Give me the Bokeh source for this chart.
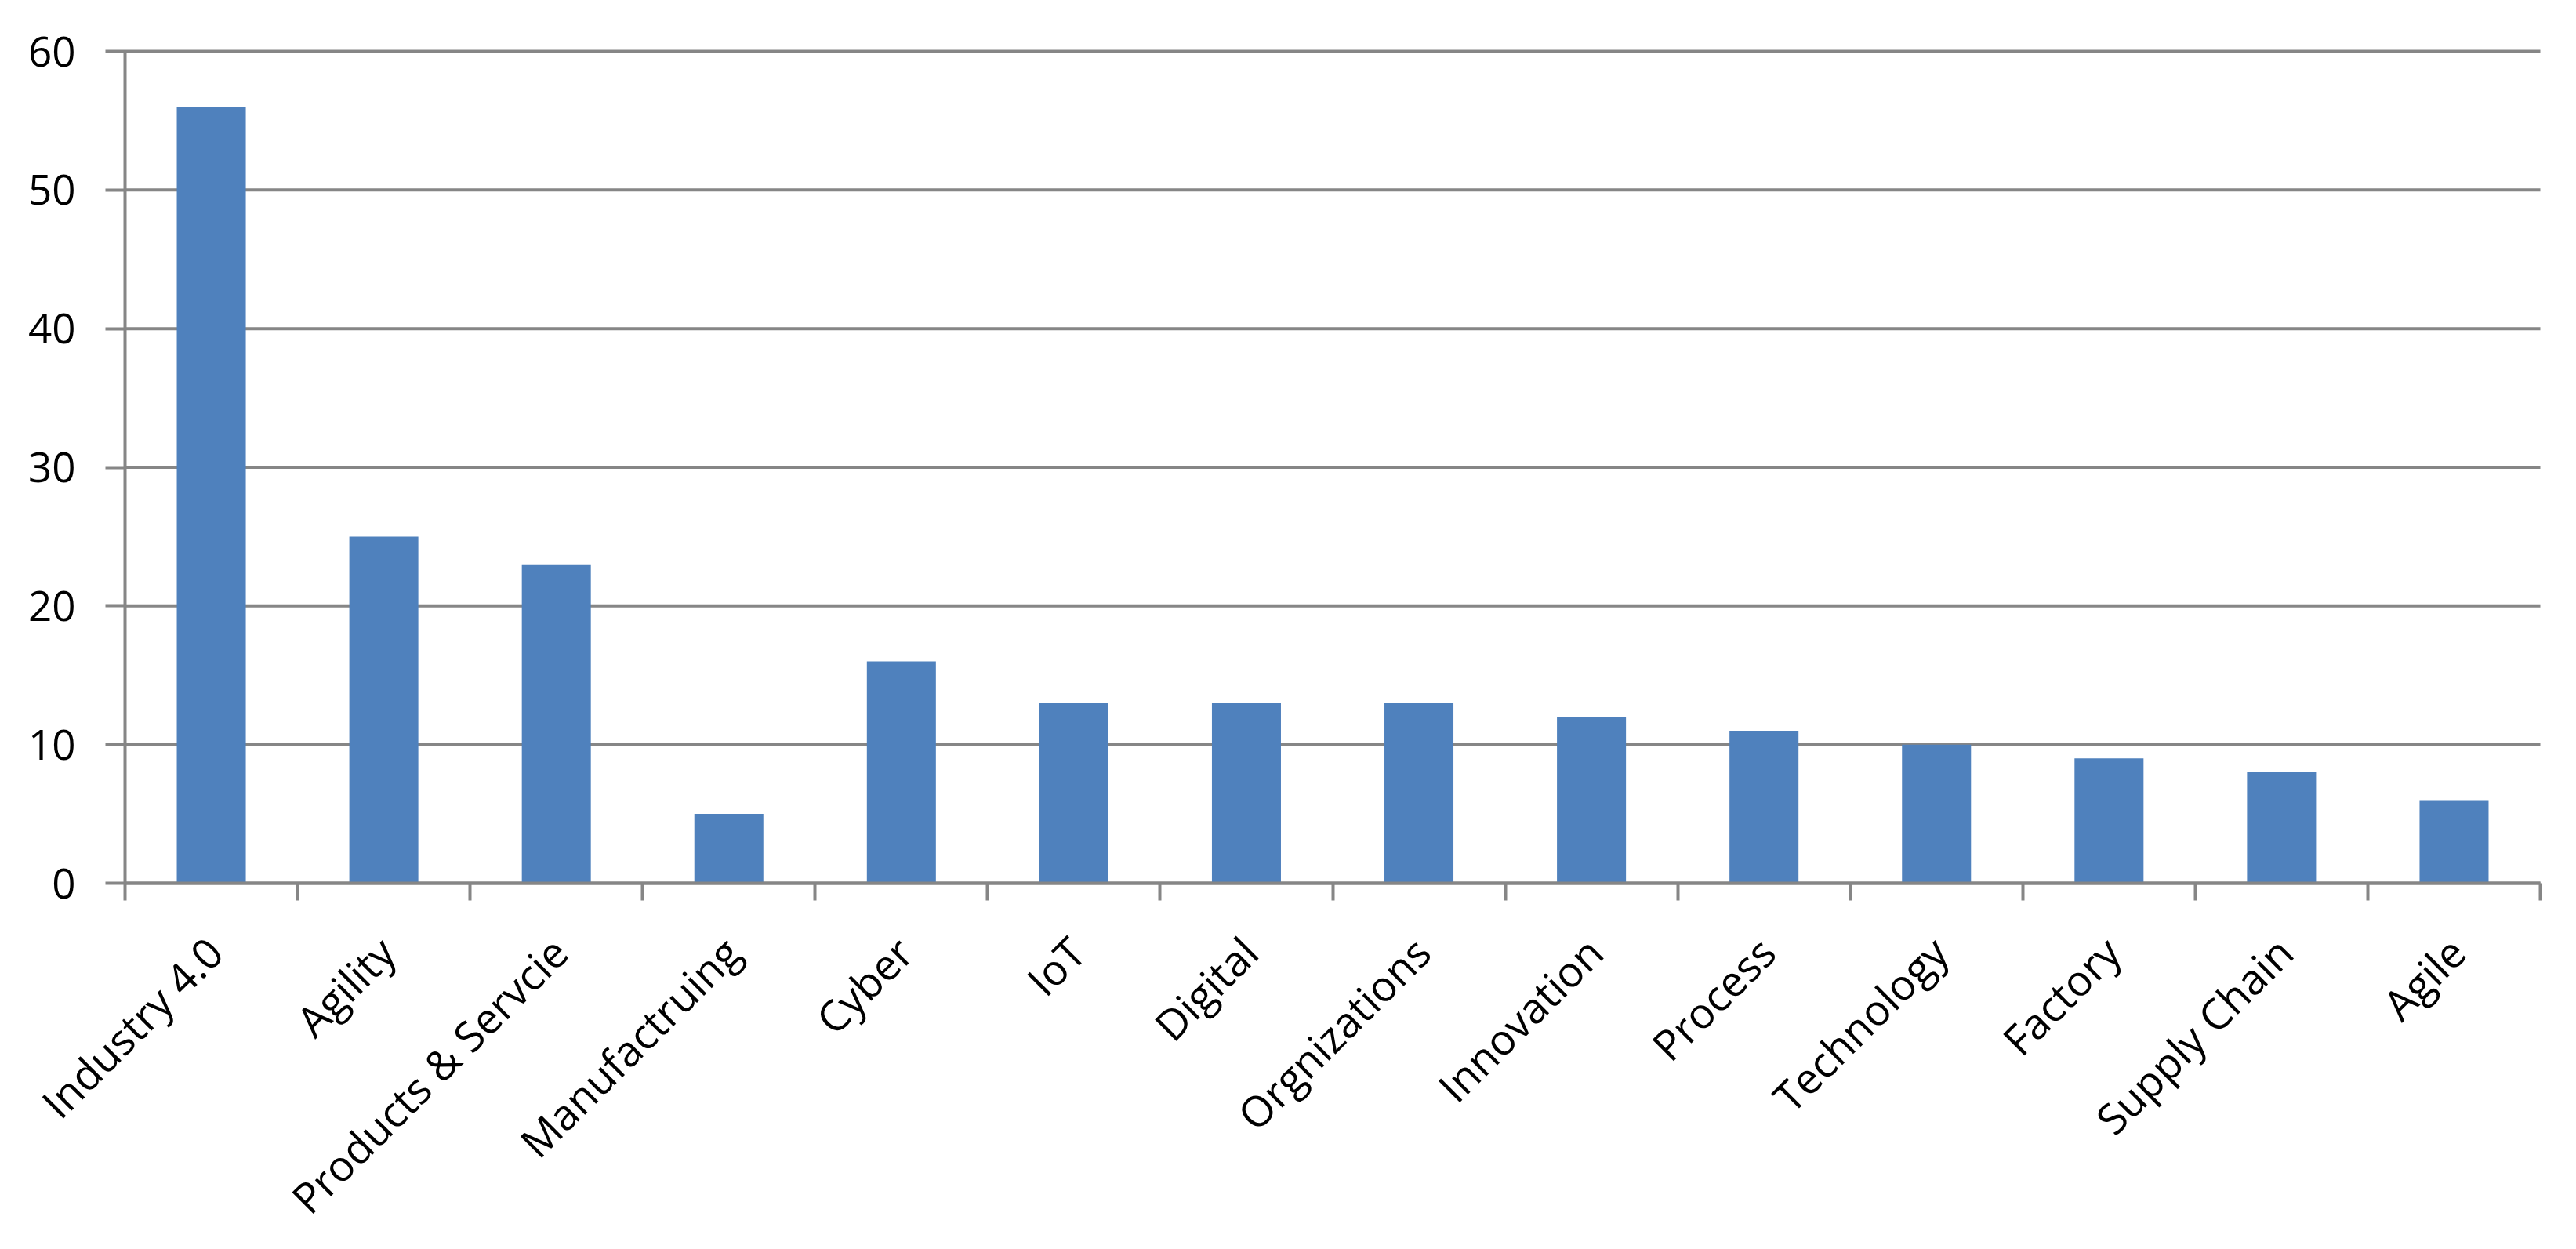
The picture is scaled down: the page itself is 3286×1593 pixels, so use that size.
from bokeh.plotting import figure
from bokeh.models import FixedTicker, Range1d, ColumnDataSource, LinearAxis
from bokeh.core.properties import value
from bokeh.embed import file_html
from bokeh.resources import INLINE
import math

categories = ["Industry 4.0", "Agility", "Products & Servcie", "Manufactruing", "Cyber",
              "IoT", "Digital", "Orgnizations", "Innovation", "Process", "Technology",
              "Factory", "Supply Chain", "Agile"]
counts = [56, 25, 23, 5, 16, 13, 13, 13, 12, 11, 10, 9, 8, 6]
y_ticks = [0, 10, 20, 30, 40, 50, 60]
y_max = 60

n = len(categories)
centers = [i + 0.5 for i in range(n)]
bounds = [i for i in range(n + 1)]

GRID = "#868686"
FONT = "Open Sans"

# page geometry (pixels inside the figure)
W, H = 3270, 1577
PLOT_L, PLOT_R = 159, 3240      # x of value axis and of the right end of the gridlines
PLOT_T, PLOT_B = 65, 1126       # y of the top gridline and of the category axis

sx = (PLOT_R - PLOT_L) / n      # px per category
sy = (PLOT_B - PLOT_T) / y_max  # px per unit

x_range = Range1d(-PLOT_L / sx, n + (W - PLOT_R) / sx)
y_range = Range1d(-(H - PLOT_B) / sy, y_max + PLOT_T / sy)

src = ColumnDataSource(dict(x=centers, top=counts, cat=categories, base=[0] * n))
grid_src = ColumnDataSource(dict(y=y_ticks, x0=[0] * len(y_ticks), x1=[n] * len(y_ticks)))

p = figure(width=W, height=H, output_backend="svg", toolbar_location=None,
           x_range=x_range, y_range=y_range,
           x_axis_location=None, y_axis_location=None,
           min_border_left=0, min_border_right=0, min_border_top=0, min_border_bottom=0)
p.outline_line_color = None
p.background_fill_color = "white"
p.border_fill_color = "white"
p.xgrid.visible = False
p.ygrid.visible = False

# horizontal gridlines, from the value axis to the end of the category axis
p.segment(x0="x0", x1="x1", y0="y", y1="y", source=grid_src,
          line_color=GRID, line_width=4)

p.vbar(x="x", top="top", width=0.4, bottom=0, source=src,
       fill_color="#4F81BD", line_color=None)

# category axis at y = 0, ticks at category boundaries
xa = LinearAxis(fixed_location=0, bounds=(0, n),
                ticker=FixedTicker(ticks=centers, minor_ticks=bounds))
xa.major_label_overrides = {c: "" for c in centers}
xa.major_label_text_font_size = "0px"
xa.major_tick_line_color = None
xa.major_tick_out = 0
xa.major_tick_in = 0
xa.minor_tick_line_color = GRID
xa.minor_tick_line_width = 4
xa.minor_tick_out = 22
xa.minor_tick_in = 0
xa.axis_line_color = GRID
xa.axis_line_width = 4
p.add_layout(xa, "below")

# value axis at x = 0
ya = LinearAxis(fixed_location=0, bounds=(0, y_max),
                ticker=FixedTicker(ticks=y_ticks, minor_ticks=[]))
ya.major_tick_line_color = GRID
ya.major_tick_line_width = 4
ya.major_tick_out = 25
ya.major_tick_in = 0
ya.axis_line_color = GRID
ya.axis_line_width = 4
ya.major_label_text_font = FONT
ya.major_label_text_font_size = "53px"
ya.major_label_text_color = "black"
ya.major_label_standoff = 38
p.add_layout(ya, "left")

# rotated category labels under the axis
p.text(x="x", y="base", text="cat", source=src, angle=math.pi / 4,
       text_align="right", text_baseline="middle",
       x_offset=4, y_offset=78,
       text_font=value(FONT), text_font_size="54px", text_color="black")

open("out.html", "w").write(file_html(p, INLINE))
